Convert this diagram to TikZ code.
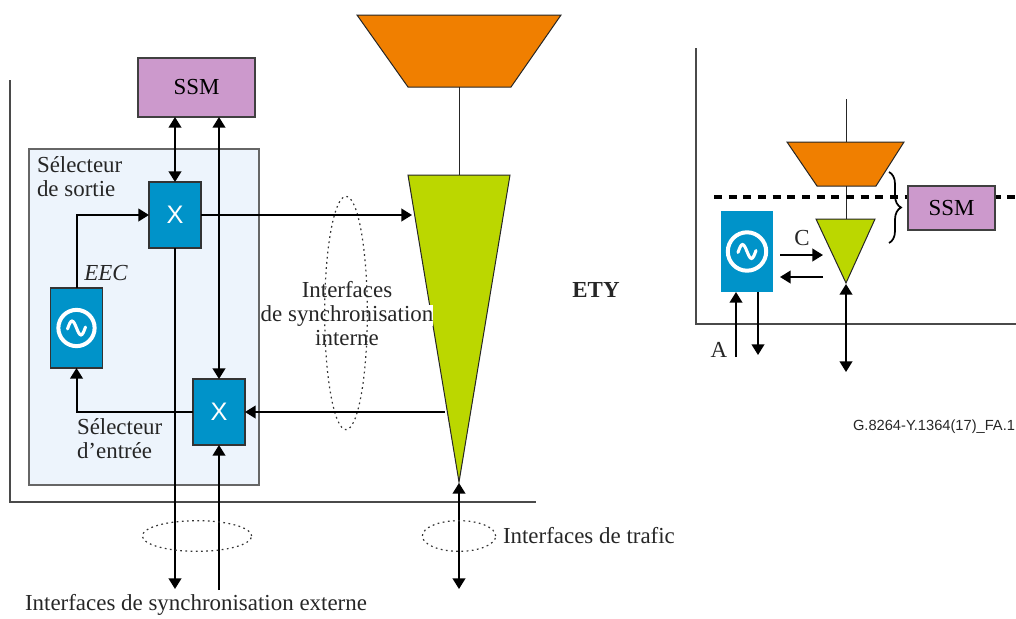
\documentclass[tikz,border=0pt]{standalone}
\usepackage{fontspec}
\setmainfont{Liberation Serif}
\newfontfamily\arialf{Liberation Sans}
\usetikzlibrary{arrows.meta,decorations.pathreplacing}
\definecolor{ssmc}{HTML}{CC99CC}
\definecolor{selbg}{HTML}{EDF4FC}
\definecolor{boxb}{HTML}{0093C9}
\definecolor{orng}{HTML}{F07F00}
\definecolor{grn}{HTML}{BBD700}
\definecolor{frm}{HTML}{4A4A4A}
\begin{document}
\begin{tikzpicture}[x=0.75pt,y=-0.75pt,
  every node/.style={inner sep=0pt, outer sep=0pt},
  txt/.style={font=\fontsize{17.2}{18}\selectfont, text=black!85},
  arr/.style={line width=1.5pt, -{Triangle[length=8pt,width=9.5pt]}},
  darr/.style={line width=1.5pt, {Triangle[length=8pt,width=9.5pt]}-{Triangle[length=8pt,width=9.5pt]}},
  xbox/.style={draw=black!80, fill=boxb, line width=0.8pt, minimum width=39pt, minimum height=49.5pt, text=white, font=\arialf\fontsize{19}{20}\selectfont},
  oscbox/.style={fill=boxb, minimum width=38.5pt, minimum height=60pt},
  ssmbox/.style={draw=black!75, fill=ssmc, line width=0.8pt, font=\fontsize{17.2}{18}\selectfont},
  frameline/.style={draw=frm, line width=1.5pt},
  shapeline/.style={draw=black!85, line width=0.75pt},
  dotell/.style={draw=black!80, line width=0.9pt, dash pattern=on 1.3pt off 2.6pt},
  wave/.style={draw=white, line width=2.3pt, line cap=round}
]
\useasboundingbox (0,0) rectangle (1016,618);

% ---------- left panel ----------
\fill[selbg] (29,149) rectangle (259,485);
\draw[draw=black!60, line width=0.9pt] (29,149) rectangle (259,485);
\draw[frameline] (10,80) -- (10,502) -- (536,502);

\node[ssmbox, minimum width=87.75pt, minimum height=44.25pt] (ssmL) at (196.5,87.5) {SSM};
\node[xbox] (topX) at (175,215) {X};
\node[xbox] (botX) at (219,412) {X};
\node[oscbox, draw=black!80, line width=0.8pt] (eec) at (76.5,328) {};
\begin{scope}[shift={(eec.center)}]
  \draw[white, line width=3pt] (0,0) circle[radius=13.6pt];
  \draw[wave] (-9,1) sin (-4.5,-7) cos (0,0) sin (4.5,7) cos (9,-1);
\end{scope}

\node[txt, align=left, anchor=north west] (selS) at (37,157) {Sélecteur\\de sortie};
\node[txt, anchor=center, font=\itshape\fontsize{17.2}{18}\selectfont] (eecT) at (106,273) {EEC};
\node[txt, align=left, anchor=north west] (selE) at (77,419) {Sélecteur\\d\symbol{39}entrée};

% trapezoid and cone
\draw[shapeline, fill=orng] (357,15) -- (561,15) -- (511,87) -- (408,87) -- cycle;
\coordinate (trapB) at (459,87);
\coordinate (coneT) at (459,175);
\draw[shapeline] (trapB) -- (coneT);
\draw[shapeline, fill=grn] (408,175) -- (510,175) -- (459,482) -- cycle;
\coordinate (apexL) at (459,483);

\node[txt, align=center, anchor=north] (intT) at (347,281)
  {Interfaces\\{\setlength{\fboxsep}{0pt}\colorbox{white}{de synchronisation}}\\interne};
\draw[dotell] (346,313) ellipse [x radius=16pt, y radius=87.5pt];

% connectors
\draw[darr] (topX.north |- ssmL.south) -- (topX.north);
\draw[darr] (botX.north |- ssmL.south) -- (botX.north);
\coordinate (extOut) at (175,589);
\coordinate (extIn) at (219,590);
\draw[arr] (topX.south) -- (topX.south |- extOut);
\draw[arr] (extIn) -- (botX.south);
\draw[arr] (eec.north) |- (topX.west);
\coordinate (coneIn) at (412,215);
\draw[arr] (topX.east) -- (coneIn);
\coordinate (coneOut) at (445,412);
\draw[arr] (coneOut) -- (botX.east);
\draw[arr] (botX.west) -| (eec.south);
\coordinate (trafOut) at (459,589);
\draw[darr] (apexL) -- (trafOut);

\draw[dotell] (197,536) ellipse [x radius=41pt, y radius=11.5pt];
\draw[dotell] (459,536) ellipse [x radius=27.5pt, y radius=11.5pt];

\node[txt, font=\bfseries\fontsize{17.2}{18}\selectfont] (ety) at (596,290) {ETY};
\node[txt, anchor=west] (trafT) at (503,536) {Interfaces de trafic};
\node[txt, anchor=center] (extT) at (196,605) {Interfaces de synchronisation externe};

% ---------- right panel ----------
\draw[frameline] (696,48) -- (696,324) -- (1016,324);
\coordinate (topR) at (846,99);
\coordinate (trapRt) at (846,142);
\draw[shapeline] (topR) -- (trapRt);
\draw[shapeline, fill=orng] (787,142) -- (904,142) -- (876,186) -- (817,186) -- cycle;
\coordinate (trapRb) at (846,186);
\coordinate (coneRt) at (846,219);
\draw[shapeline] (trapRb) -- (coneRt);
\draw[line width=2.4pt, dash pattern=on 6pt off 5pt] (714,197) -- (1016,197);
\draw[shapeline, fill=grn] (816,219) -- (875,219) -- (846,283) -- cycle;
\coordinate (apexR) at (846,284);

\draw[black, line width=1.3pt, decorate, decoration={brace, amplitude=9pt}] (889,172) -- (889,243);
\node[ssmbox, minimum width=65.25pt, minimum height=33pt] (ssmR) at (951.5,208) {SSM};

\node[oscbox, minimum width=39pt, minimum height=60.75pt] (oscR) at (747,251.5) {};
\begin{scope}[shift={(oscR.center)}]
  \draw[white, line width=3pt] (0,0) circle[radius=14.4pt];
  \draw[wave] (-9,1) sin (-4.5,-7) cos (0,0) sin (4.5,7) cos (9,-1);
\end{scope}

\node[txt] (cT) at (802,238) {C};
\coordinate (c1) at (780,255);
\coordinate (c2) at (823,255);
\draw[arr] (c1) -- (c2);
\coordinate (c3) at (823,277);
\coordinate (c4) at (780,277);
\draw[arr] (c3) -- (c4);
\coordinate (aIn) at (736,357);
\draw[arr] (aIn) -- (aIn |- oscR.south);
\coordinate (aOut) at (758,355);
\draw[arr] (aOut |- oscR.south) -- (aOut);
\node[txt] (aT) at (719,350) {A};
\coordinate (trafR) at (846,372);
\draw[darr] (apexR) -- (trafR);

\node[anchor=east, text=black!85, font=\arialf\fontsize{11}{13}\selectfont] (figid) at (1015,427) {G.8264-Y.1364(17)\_FA.1};
\end{tikzpicture}
\end{document}
